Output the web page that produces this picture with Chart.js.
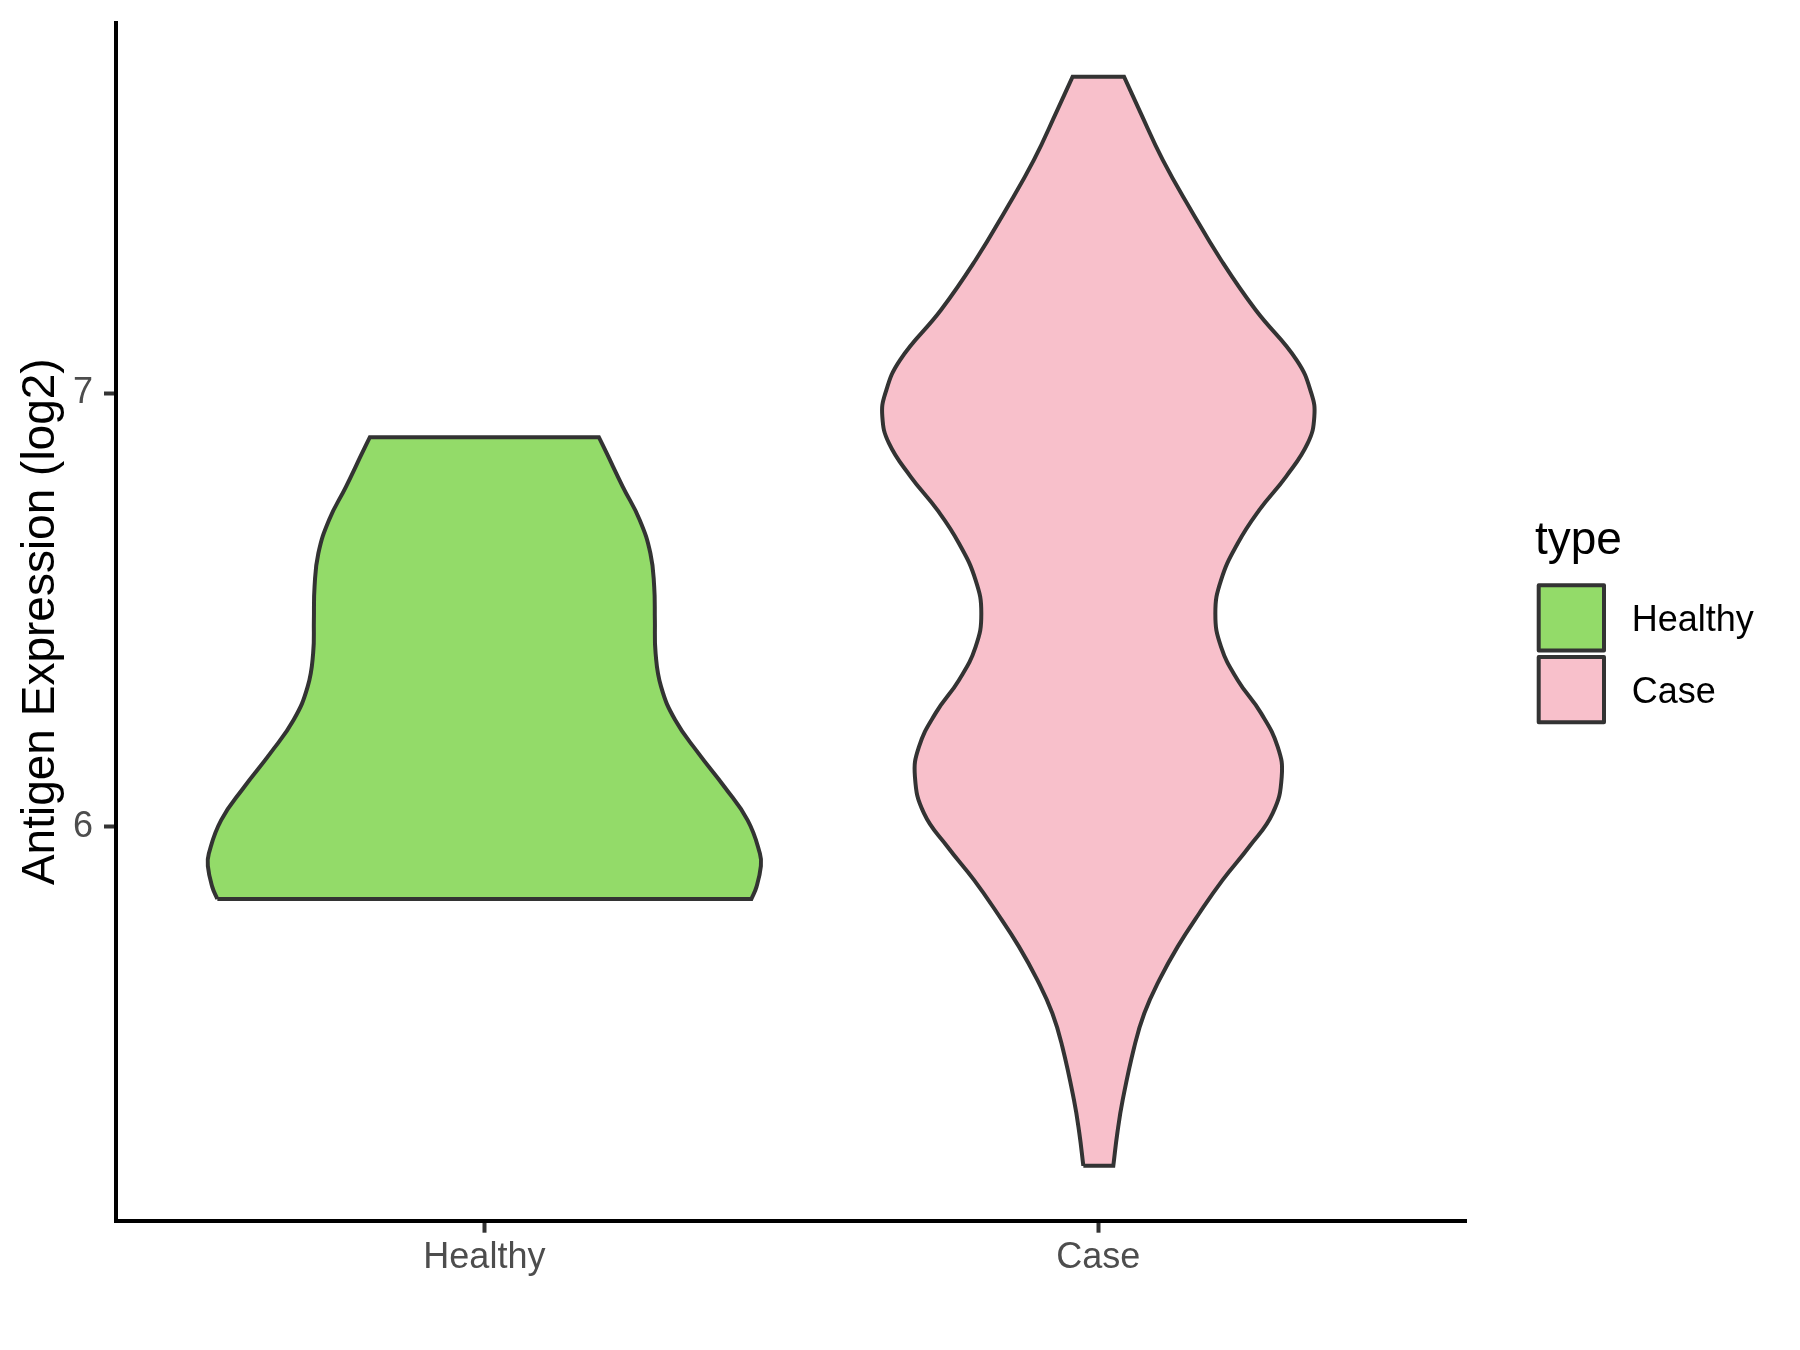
<!DOCTYPE html>
<html>
<head>
<meta charset="utf-8">
<title>Antigen Expression (log2)</title>
<script src="https://cdn.jsdelivr.net/npm/chart.js@4.4.1/dist/chart.umd.min.js"></script>
<style>
  html, body { margin: 0; padding: 0; background: #ffffff; }
  #wrap { width: 1800px; height: 1350px; }
</style>
</head>
<body>
<div id="wrap"><canvas id="myChart" width="1800" height="1350"></canvas></div>
<script>
const categories = ["Healthy", "Case"];
const categoryPos = [1, 2];
const fillColors = ["#93DB69", "#F8C0CB"];
const yTicks = [6, 7];
const yTitle = "Antigen Expression (log2)";
const legendTitle = "type";

// violin outlines: level (log2) from bottom to top,
// and half width of the violin at that level (in category units)
const healthyLevels = [5.833, 5.861, 5.909, 5.938, 6.015, 6.092, 6.169, 6.246,
  6.323, 6.400, 6.477, 6.554, 6.631, 6.708, 6.785, 6.862, 6.899];
const healthyHalfWidth = [0.4349, 0.4432, 0.4504, 0.4488, 0.4287, 0.3909, 0.3488, 0.3108,
  0.2878, 0.2789, 0.2777, 0.2766, 0.2704, 0.2530, 0.2253, 0.1992, 0.1865];

const caseLevels = [5.217, 5.293, 5.369, 5.492, 5.569, 5.646, 5.723, 5.800, 5.877,
  5.954, 6.031, 6.115, 6.184, 6.262, 6.338, 6.415, 6.492, 6.569, 6.654, 6.731,
  6.808, 6.885, 6.946, 7.000, 7.077, 7.193, 7.308, 7.423, 7.539, 7.654, 7.731];
const caseHalfWidth = [0.0244, 0.0310, 0.0397, 0.0586, 0.0749, 0.0994, 0.1293, 0.1645, 0.2026,
  0.2460, 0.2841, 0.2987, 0.2922, 0.2650, 0.2271, 0.1999, 0.1906, 0.1999, 0.2271, 0.2623,
  0.3058, 0.3411, 0.3518, 0.3470, 0.3230, 0.2560, 0.1999, 0.1510, 0.1049, 0.0668, 0.0419];

const FONT = '"Liberation Sans", Arial, Helvetica, sans-serif';

function violinOutline(center, levels, half) {
  const left = levels.map((y, i) => ({ x: center - half[i], y: y }));
  const right = levels.map((y, i) => ({ x: center + half[i], y: y })).reverse();
  const n = levels.length - 1;
  // corners are doubled so the flat ends stay straight with tension on
  return [left[0], ...left, left[n], right[0], ...right, right[n], left[0]];
}

const violins = [
  violinOutline(categoryPos[0], healthyLevels, healthyHalfWidth),
  violinOutline(categoryPos[1], caseLevels, caseHalfWidth),
];

// no extra room for tick labels, the plot panel is placed by the layout padding
function noLabelPadding(scale) {
  scale.paddingTop = 0;
  scale.paddingBottom = 0;
  scale.paddingLeft = 0;
  scale.paddingRight = 0;
}

const legendBoxes = {
  id: "legendBoxes",
  afterDraw(chart) {
    const ctx = chart.ctx;
    ctx.save();
    ctx.fillStyle = "#000000";
    ctx.textAlign = "left";
    ctx.textBaseline = "alphabetic";
    ctx.font = "46px " + FONT;
    ctx.fillText(legendTitle, 1535, 554);

    chart.data.datasets.forEach((ds, i) => {
      const top = 585.3 + i * 71.7;
      const size = 65.3;
      ctx.lineJoin = "round";
      ctx.fillStyle = ds.backgroundColor;
      ctx.fillRect(1538.7, top, size, size);
      ctx.strokeStyle = ds.borderColor;
      ctx.lineWidth = 4;
      ctx.strokeRect(1538.7, top, size, size);
      ctx.fillStyle = "#000000";
      ctx.font = "36px " + FONT;
      ctx.fillText(ds.label, 1631.7, top + size / 2 + 13);
    });
    ctx.restore();
  },
};

const ctx = document.getElementById("myChart").getContext("2d");
const myChart = new Chart(ctx, {
  type: "scatter",
  data: {
    datasets: categories.map((cat, i) => ({
      label: cat,
      data: violins[i],
      showLine: true,
      fill: "shape",
      tension: 0.45,
      backgroundColor: fillColors[i],
      borderColor: "#333333",
      borderWidth: 4,
      pointRadius: 0,
      pointHoverRadius: 0,
    })),
  },
  options: {
    responsive: false,
    animation: false,
    events: [],
    layout: {
      autoPadding: false,
      padding: { top: 22.7, right: 333.3, bottom: 0, left: 0 },
    },
    scales: {
      x: {
        type: "linear",
        position: "bottom",
        min: 0.4,
        max: 2.6,
        afterBuildTicks: (scale) => {
          scale.ticks = categoryPos.map((v) => ({ value: v }));
        },
        afterFit: (scale) => {
          scale.height = 129.3;
          noLabelPadding(scale);
        },
        ticks: {
          callback: (value) => categories[categoryPos.indexOf(value)],
          color: "#4D4D4D",
          font: { family: FONT, size: 36 },
          padding: 3.5,
          maxRotation: 0,
          autoSkip: false,
        },
        grid: {
          drawOnChartArea: false,
          drawTicks: true,
          tickLength: 12,
          tickWidth: 4,
          tickColor: "#333333",
        },
        border: { display: true, color: "#000000", width: 4 },
      },
      y: {
        type: "linear",
        min: 5.0903,
        max: 7.8557,
        afterBuildTicks: (scale) => {
          scale.ticks = yTicks.map((v) => ({ value: v }));
        },
        afterFit: (scale) => {
          scale.width = 116;
          noLabelPadding(scale);
        },
        ticks: {
          color: "#4D4D4D",
          font: { family: FONT, size: 36 },
          padding: 11,
        },
        grid: {
          drawOnChartArea: false,
          drawTicks: true,
          tickLength: 12,
          tickWidth: 4,
          tickColor: "#333333",
        },
        border: { display: true, color: "#000000", width: 4 },
        title: {
          display: true,
          text: yTitle,
          color: "#000000",
          font: { family: FONT, size: 46 },
          padding: { top: 14, bottom: 0 },
        },
      },
    },
    plugins: {
      legend: { display: false },
      tooltip: { enabled: false },
      title: { display: false },
    },
  },
  plugins: [legendBoxes],
});
</script>
</body>
</html>
